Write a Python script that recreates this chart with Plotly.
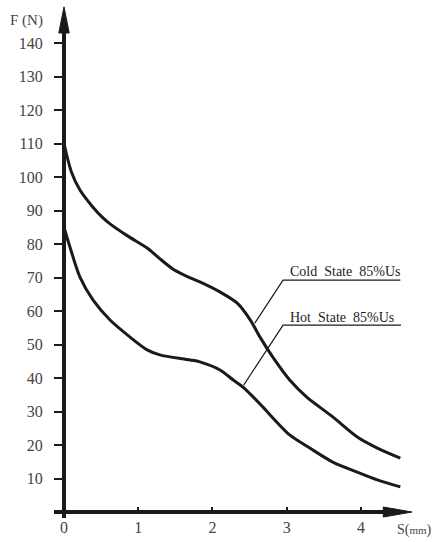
import plotly.graph_objects as go

# Data
cold_s = [0.0, 0.10, 0.215, 0.39, 0.525, 0.62, 0.85, 1.12, 1.27, 1.47, 1.70, 1.83, 2.10, 2.33, 2.51, 2.64, 2.81, 3.04, 3.27, 3.62, 3.95, 4.22, 4.53]
cold_f = [110, 101.5, 96.1, 91.0, 87.8, 86.0, 82.5, 78.8, 76.0, 72.5, 69.9, 68.7, 65.7, 62.4, 57.3, 52.2, 46.3, 39.4, 34.3, 28.4, 22.4, 19.1, 16.1]
hot_s = [0.0, 0.08, 0.215, 0.39, 0.62, 0.89, 1.12, 1.29, 1.70, 1.83, 2.10, 2.28, 2.41, 2.55, 2.68, 3.04, 3.31, 3.62, 3.95, 4.22, 4.53]
hot_f = [85, 79.1, 70.1, 63.3, 57.3, 52.2, 48.4, 46.9, 45.4, 44.8, 42.4, 39.4, 37.3, 34.3, 31.3, 23.0, 19.1, 14.9, 11.9, 9.6, 7.5]
x_ticks = [0, 1, 2, 3, 4]
y_ticks = [10, 20, 30, 40, 50, 60, 70, 80, 90, 100, 110, 120, 130, 140]
labels = ["Cold  State  85%Us", "Hot  State  85%Us"]

FONT = "Liberation Serif"
INK = "#1a1a1a"

fig = go.Figure()
fig.add_trace(go.Scatter(x=cold_s, y=cold_f, mode="lines",
                         line=dict(color=INK, width=3, shape="spline", smoothing=0.8),
                         showlegend=False, hoverinfo="skip"))
fig.add_trace(go.Scatter(x=hot_s, y=hot_f, mode="lines",
                         line=dict(color=INK, width=3, shape="spline", smoothing=0.8),
                         showlegend=False, hoverinfo="skip"))

shapes = [
    dict(type="line", xref="x", yref="y", x0=0, x1=0, y0=-1.8, y1=144, line=dict(color=INK, width=4)),
    dict(type="path", xref="x", yref="y", path="M -0.07,143 L 0,150.8 L 0.07,143 Z",
         fillcolor=INK, line=dict(color=INK, width=1)),
    dict(type="line", xref="x", yref="y", x0=-0.135, x1=4.35, y0=0, y1=0, line=dict(color=INK, width=4)),
    dict(type="path", xref="x", yref="y", path="M 4.30,-1.5 L 4.687,0 L 4.30,1.5 Z",
         fillcolor=INK, line=dict(color=INK, width=1)),
    dict(type="path", xref="x", yref="y", path="M 2.57,56.4 L 2.95,69.2 L 4.53,69.2",
         line=dict(color=INK, width=1.2)),
    dict(type="path", xref="x", yref="y", path="M 2.42,37.9 L 2.95,55.8 L 4.54,55.8",
         line=dict(color=INK, width=1.2)),
]

annotations = [
    dict(x=3.017, y=71.8, xref="x", yref="y", text=labels[0], showarrow=False,
         xanchor="left", yanchor="middle", font=dict(family=FONT, size=14, color="#222")),
    dict(x=3.017, y=58.2, xref="x", yref="y", text=labels[1], showarrow=False,
         xanchor="left", yanchor="middle", font=dict(family=FONT, size=14, color="#222")),
    dict(x=-0.083, y=0.965, xref="paper", yref="paper", text="F (N)", showarrow=False,
         xanchor="left", yanchor="middle", font=dict(family=FONT, size=15, color="#444")),
    dict(x=1.018, y=-0.0154, xref="paper", yref="paper",
         text="S(<span style='font-size:11px'>mm</span>)", showarrow=False,
         xanchor="right", yanchor="middle", font=dict(family=FONT, size=14, color="#444")),
]

fig.update_layout(
    width=435, height=542,
    margin=dict(l=40, r=8, t=2, b=20),
    paper_bgcolor="white", plot_bgcolor="white",
    shapes=shapes, annotations=annotations,
    xaxis=dict(range=[-0.3232, 4.889], anchor="free", position=0.01923, automargin=False,
               tickvals=x_ticks, ticktext=[str(v) for v in x_ticks],
               ticks="inside", ticklen=5, tickwidth=1.5, tickcolor=INK,
               showline=False, showgrid=False, zeroline=False,
               ticklabelstandoff=4,
               tickfont=dict(family=FONT, size=16, color="#444")),
    yaxis=dict(range=[-2.98, 152.24], anchor="free", position=0.06202, automargin=False,
               tickvals=y_ticks, ticktext=[str(v) for v in y_ticks],
               ticks="outside", ticklen=10, tickwidth=1.5, tickcolor=INK,
               showline=False, showgrid=False, zeroline=False,
               ticklabelstandoff=8,
               tickfont=dict(family=FONT, size=16, color="#444")),
)

fig.write_html("out.html", config={"displayModeBar": False})

# remove the browser's default page margin so the figure sits at the window corner
with open("out.html", encoding="utf-8") as f:
    html = f.read()
html = html.replace("<head>", "<head><style>html,body{margin:0;padding:0;overflow:hidden;}</style>", 1)
with open("out.html", "w", encoding="utf-8") as f:
    f.write(html)
